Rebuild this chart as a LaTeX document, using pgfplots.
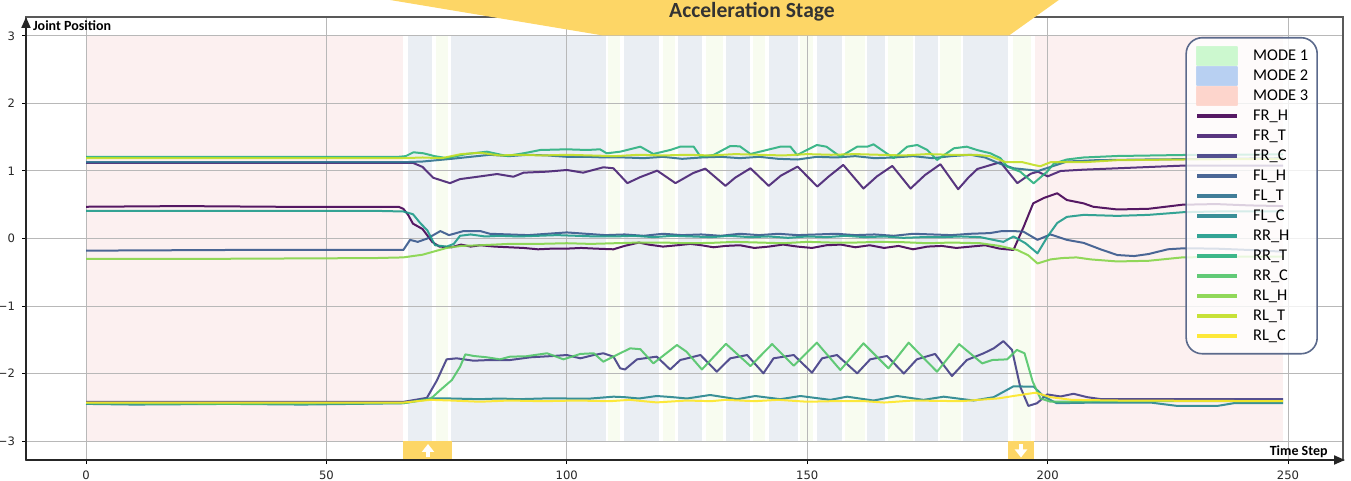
\documentclass[border=0pt]{standalone}
\usepackage{pgfplots}
\pgfplotsset{compat=1.18}
\usepackage{fontspec}
\setmainfont{Carlito}
\newfontfamily\dejavu{DejaVu Sans}
\usetikzlibrary{arrows.meta}
\definecolor{c0}{HTML}{440154}
\definecolor{c1}{HTML}{482173}
\definecolor{c2}{HTML}{433E85}
\definecolor{c3}{HTML}{38588C}
\definecolor{c4}{HTML}{2D708E}
\definecolor{c5}{HTML}{25858E}
\definecolor{c6}{HTML}{1E9B8A}
\definecolor{c7}{HTML}{2AB07F}
\definecolor{c8}{HTML}{52C569}
\definecolor{c9}{HTML}{86D549}
\definecolor{c10}{HTML}{C2DF23}
\definecolor{c11}{HTML}{FDE725}
\definecolor{shpink}{RGB}{252,238,238}
\definecolor{shblue}{RGB}{232,236,242}
\definecolor{shgreen}{RGB}{247,252,238}
\definecolor{lgreen}{HTML}{CCF8CF}
\definecolor{lblue}{HTML}{B8D0F2}
\definecolor{lpink}{HTML}{FDD5CC}
\definecolor{banner}{HTML}{FDD666}
\definecolor{legframe}{HTML}{5B6A8C}
\newcommand{\region}[3]{\addplot[draw=none, fill=#1, on layer=axis background, forget plot] coordinates {(#2,-3) (#2,3) (#3,3) (#3,-3)} -- cycle;}
\begin{document}
\begin{tikzpicture}
\begin{axis}[
  set layers,
  scale only axis, width=658.5pt, height=221.5pt,
  xmin=-12.48, xmax=261.44, ymin=-3.281, ymax=3.281,
  xtick={0,50,100,150,200,250}, ytick={-3,-2,-1,0,1,2,3},
  xticklabels={0,50,100,150,200,250},
  yticklabels={−3,−2,−1,0,1,2,3},
  tick label style={font=\dejavu\fontsize{5.8}{7}\selectfont, text=black!85},
  tick align=outside, xtick pos=bottom, ytick pos=left,
  major tick length=2pt,
  tick style={black, line width=0.5pt},
  grid=major, grid style={black!28, line width=0.5pt},
  axis line style={draw=black!65, line width=0.6pt},
  every axis plot/.append style={line width=1pt, line join=round, opacity=0.9},
  legend style={at={(0.981,0.955)}, anchor=north east, rounded corners=8pt,
    draw=legframe, line width=0.8pt, fill=white, fill opacity=0.8, text opacity=1, draw opacity=1,
    font=\fontsize{8.2}{9}\selectfont, inner xsep=4.5pt, inner ysep=4pt,
    nodes={inner sep=0pt, text height=7pt, text depth=2pt, inner ysep=0.5pt},
    /tikz/every odd column/.append style={column sep=7pt}},
  legend cell align=left,
  legend image code/.code={\draw[#1, line width=2pt, opacity=0.9, sharp corners] (0pt,0pt) -- (20pt,0pt);},
]
\region{shpink}{0}{66}
\region{shblue}{67}{72}
\region{shgreen}{72.8}{75.3}
\region{shblue}{76}{108.2}
\region{shgreen}{108.6}{111}
\region{shblue}{111.9}{119.2}
\region{shgreen}{120.1}{122.4}
\region{shblue}{123.2}{128.2}
\region{shgreen}{129}{132.5}
\region{shblue}{133.2}{138}
\region{shgreen}{138.8}{141.3}
\region{shblue}{142.1}{148.1}
\region{shgreen}{148.6}{151.3}
\region{shblue}{152.1}{157.3}
\region{shgreen}{157.9}{162.1}
\region{shblue}{162.5}{166.2}
\region{shgreen}{166.9}{172.1}
\region{shblue}{172.5}{177.3}
\region{shgreen}{177.7}{181.9}
\region{shblue}{182.3}{191.8}
\region{shgreen}{192.7}{196.6}
\region{shpink}{197.3}{249}

\addlegendimage{legend image code/.code={\fill[lgreen, fill opacity=1, sharp corners] (0pt,-4.5pt) rectangle (20pt,4.5pt);}}
\addlegendentry{MODE 1}
\addlegendimage{legend image code/.code={\fill[lblue, fill opacity=1, sharp corners] (0pt,-4.5pt) rectangle (20pt,4.5pt);}}
\addlegendentry{MODE 2}
\addlegendimage{legend image code/.code={\fill[lpink, fill opacity=1, sharp corners] (0pt,-4.5pt) rectangle (20pt,4.5pt);}}
\addlegendentry{MODE 3}

% FR_H
\addplot[c0] coordinates {(0,0.47) (20,0.48) (40,0.47) (60,0.47) (65,0.47) (66,0.44) (67,0.35) (68,0.22) (70,0.14) (72,-0.05) (73.5,-0.12) (76,-0.13) (78,-0.09) (80,-0.12) (82,-0.1) (85,-0.12) (88,-0.13) (91,-0.14) (94,-0.16) (97,-0.15) (100,-0.15) (103,-0.14) (106,-0.15) (109.7,-0.16) (112,-0.11) (115,-0.06) (117,-0.09) (120,-0.12) (123,-0.1) (125.7,-0.08) (128,-0.1) (130.5,-0.13) (133,-0.11) (136,-0.1) (139,-0.14) (142,-0.12) (145,-0.09) (148,-0.12) (151,-0.14) (154,-0.1) (157,-0.09) (160,-0.13) (163,-0.1) (166,-0.14) (169,-0.11) (172,-0.16) (175,-0.12) (178,-0.11) (181,-0.14) (184,-0.12) (187,-0.1) (190,-0.15) (192.9,-0.17) (195,0.17) (197,0.52) (199.2,0.6) (202,0.67) (204,0.57) (207.5,0.52) (209.5,0.47) (214.5,0.43) (221,0.44) (228,0.5) (235,0.51) (242,0.49) (249,0.48)};
\addlegendentry{FR\_H}
% FR_T
\addplot[c1] coordinates {(0,1.12) (30,1.12) (66,1.12) (68,1.12) (70,1.06) (72.2,0.9) (75.7,0.82) (77.8,0.88) (82,0.92) (85.5,0.955) (88.9,0.915) (91,0.975) (95.9,0.99) (100,1.015) (103.4,0.975) (107.6,1.055) (109.7,1.04) (112.6,0.82) (115.3,0.91) (118.8,1.005) (122.6,0.82) (126.3,0.97) (128.8,1.035) (133,0.78) (135,0.9) (138.2,1.04) (142,0.78) (144.5,0.93) (148,1.065) (152.1,0.77) (154.5,0.92) (157.5,1.09) (161.7,0.74) (164.5,0.92) (167.7,1.075) (171.5,0.74) (174.5,0.94) (177.7,1.1) (181.4,0.73) (183.5,0.9) (185.4,1.03) (188.7,1.1) (190.2,1.13) (193.7,0.82) (196.5,0.96) (198,0.99) (200,0.92) (202.7,1.0) (207.5,1.02) (214.5,1.04) (228.3,1.08) (249,1.08)};
\addlegendentry{FR\_T}
% FR_C
\addplot[c2] coordinates {(0,-2.42) (30,-2.42) (60,-2.42) (66,-2.42) (70.9,-2.36) (73,-2.1) (75,-1.79) (77.1,-1.775) (80.6,-1.81) (84,-1.8) (88.2,-1.8) (92.4,-1.76) (97.2,-1.74) (100,-1.726) (102.8,-1.775) (105.6,-1.726) (107.6,-1.7) (109.7,-1.75) (111.1,-1.923) (112.1,-1.94) (114.6,-1.79) (118.7,-1.75) (121.5,-1.94) (123.6,-1.8) (127.8,-1.726) (131.2,-1.973) (134,-1.775) (137.5,-1.726) (140.9,-1.997) (143,-1.775) (147.2,-1.726) (151,-1.987) (153.1,-1.775) (156.2,-1.726) (160.4,-1.997) (163.1,-1.79) (166.6,-1.74) (170.1,-2.0) (172.8,-1.79) (176.6,-1.71) (180.1,-2.037) (183.2,-1.8) (186.7,-1.7) (188.8,-1.627) (190.8,-1.52) (192.6,-1.65) (194.3,-2.195) (196,-2.48) (197.8,-2.44) (199.9,-2.31) (202.7,-2.34) (205.4,-2.3) (208.2,-2.35) (211,-2.378) (230,-2.38) (249,-2.38)};
\addlegendentry{FR\_C}
% FL_H
\addplot[c3] coordinates {(0,-0.18) (30,-0.17) (60,-0.17) (66,-0.17) (67.4,-0.02) (69,-0.05) (71,0.0) (73.7,0.11) (75.5,0.05) (78.5,0.11) (82,0.11) (84,0.07) (88,0.06) (92,0.05) (96,0.07) (100,0.09) (104,0.07) (108,0.05) (112,0.06) (116,0.04) (120,0.07) (124,0.05) (128,0.06) (132,0.04) (136,0.07) (140,0.05) (144,0.07) (148,0.05) (152,0.06) (156,0.07) (160,0.05) (164,0.06) (168,0.04) (172,0.07) (176,0.06) (180,0.05) (184,0.07) (188,0.08) (190.5,0.11) (193,0.11) (195,0.1) (197.9,-0.02) (200.6,0.06) (204,-0.02) (207.5,-0.065) (211,-0.16) (214.5,-0.245) (218,-0.26) (221,-0.23) (225,-0.16) (228.3,-0.145) (235,-0.15) (242,-0.17) (249,-0.195)};
\addlegendentry{FL\_H}
% FL_T
\addplot[c4] coordinates {(0,1.13) (30,1.13) (66,1.13) (70,1.14) (73,1.16) (76,1.18) (80,1.21) (84,1.24) (88,1.22) (92,1.24) (96,1.23) (100,1.21) (104,1.21) (108,1.2) (112,1.2) (116,1.19) (120,1.21) (124,1.18) (128,1.2) (132,1.21) (136,1.19) (140,1.21) (144,1.18) (148,1.17) (152,1.21) (156,1.2) (160,1.22) (164,1.19) (168,1.2) (172,1.22) (176,1.19) (180,1.22) (184,1.24) (187,1.2) (190,1.11) (193,1.04) (196.4,1.015) (198,1.0) (200.6,1.06) (204,1.14) (210,1.16) (220,1.17) (235,1.18) (249,1.19)};
\addlegendentry{FL\_T}
% FL_C
\addplot[c5] coordinates {(0,-2.45) (10,-2.46) (30,-2.45) (45,-2.46) (66,-2.44) (71.6,-2.368) (76,-2.37) (81.9,-2.38) (86,-2.37) (90,-2.38) (95.9,-2.368) (100,-2.37) (105,-2.37) (109.7,-2.343) (112,-2.35) (115,-2.37) (118.7,-2.333) (122,-2.35) (125,-2.37) (129.8,-2.318) (135.4,-2.38) (139.2,-2.333) (144.4,-2.38) (148.6,-2.333) (154.8,-2.39) (158.3,-2.343) (163.8,-2.4) (168.7,-2.333) (174.2,-2.39) (178.4,-2.343) (184.6,-2.4) (188.8,-2.35) (192.9,-2.19) (197.1,-2.195) (199.2,-2.34) (201.9,-2.44) (210,-2.43) (221.4,-2.43) (227,-2.48) (235.3,-2.48) (238.7,-2.44) (249,-2.44)};
\addlegendentry{FL\_C}
% RR_H
\addplot[c6] coordinates {(0,0.41) (30,0.41) (60,0.41) (66,0.4) (68,0.36) (69.5,0.23) (71,0.12) (72.6,-0.1) (75,-0.12) (76.5,-0.08) (77.8,0.04) (80,0.06) (83,0.03) (86,0.04) (90,0.03) (94,0.04) (98,0.05) (102,0.04) (106,0.03) (110,0.03) (114,0.04) (118,0.02) (122,0.04) (126,0.03) (130,0.02) (134,0.04) (138,0.02) (142,0.03) (146,0.01) (150,0.03) (154,0.02) (158,0.04) (162,0.02) (166,0.03) (170,0.01) (174,0.02) (178,0.02) (182,0.03) (186,0.02) (188.7,-0.02) (190.8,-0.05) (192.9,0.03) (195.4,-0.07) (197.9,-0.22) (200,0.03) (202,0.23) (204,0.32) (207.5,0.35) (214.5,0.335) (221,0.35) (228.3,0.39) (235,0.4) (249,0.4)};
\addlegendentry{RR\_H}
% RR_T
\addplot[c7] coordinates {(0,1.21) (30,1.21) (65,1.21) (66.5,1.22) (68.1,1.277) (70.2,1.262) (72.5,1.22) (75,1.19) (79.2,1.252) (83.4,1.286) (87.5,1.222) (91,1.262) (94.5,1.311) (100,1.321) (104.2,1.311) (106.9,1.321) (108.3,1.262) (111.1,1.286) (115.3,1.36) (118,1.252) (121.5,1.311) (123.6,1.36) (126.4,1.36) (127.8,1.212) (130.5,1.237) (134,1.37) (136,1.365) (138.2,1.252) (141.6,1.311) (144.4,1.36) (146.5,1.36) (147.9,1.237) (152,1.385) (154,1.36) (156.9,1.212) (160.4,1.36) (162.5,1.36) (163.8,1.395) (165.5,1.311) (168,1.19) (170.8,1.36) (172.9,1.385) (175,1.31) (177,1.163) (180.5,1.336) (183.2,1.36) (185.3,1.311) (188.1,1.262) (190.2,1.19) (191.6,1.064) (194.3,0.99) (197.1,0.818) (199.9,0.99) (201.3,1.11) (204,1.17) (207.5,1.2) (214.5,1.222) (228.3,1.237) (249,1.247)};
\addlegendentry{RR\_T}
% RR_C
\addplot[c8] coordinates {(0,-2.44) (30,-2.45) (60,-2.44) (66,-2.44) (71.6,-2.38) (73.7,-2.244) (76.1,-2.096) (77.8,-1.9) (78.9,-1.716) (80.6,-1.74) (83.4,-1.76) (86.1,-1.79) (88.2,-1.75) (91.5,-1.745) (95.9,-1.7) (99.3,-1.79) (102.8,-1.71) (105.6,-1.7) (107.6,-1.825) (110.5,-1.72) (113.2,-1.627) (115.3,-1.64) (118,-1.85) (122.9,-1.578) (124.9,-1.677) (128.1,-1.94) (133.1,-1.56) (138.2,-1.89) (142.7,-1.563) (147.2,-1.884) (152,-1.543) (156.9,-1.948) (161.7,-1.553) (166.9,-1.923) (171.1,-1.543) (177,-1.973) (181.6,-1.565) (186.4,-1.85) (188.5,-1.8) (191.6,-1.79) (193.6,-1.65) (195.2,-1.7) (196.9,-2.12) (198.5,-2.368) (200.6,-2.418) (210,-2.41) (230,-2.41) (249,-2.41)};
\addlegendentry{RR\_C}
% RL_H
\addplot[c9] coordinates {(0,-0.3) (30,-0.3) (60,-0.29) (66,-0.28) (70,-0.24) (72,-0.2) (75,-0.14) (78,-0.11) (82,-0.1) (88,-0.08) (94,-0.08) (100,-0.07) (105,-0.08) (110,-0.07) (115,-0.06) (120,-0.06) (125,-0.07) (130,-0.065) (135,-0.05) (140,-0.06) (145,-0.07) (150,-0.05) (155,-0.06) (160,-0.06) (165,-0.05) (170,-0.055) (175,-0.07) (180,-0.06) (186,-0.07) (190,-0.11) (193.7,-0.17) (196,-0.25) (197.9,-0.37) (200.6,-0.31) (203,-0.29) (206,-0.28) (209,-0.31) (214.5,-0.34) (221,-0.33) (228,-0.28) (238,-0.27) (249,-0.27)};
\addlegendentry{RL\_H}
% RL_T
\addplot[c10] coordinates {(0,1.19) (30,1.19) (66,1.19) (70,1.2) (74,1.19) (78,1.25) (82,1.27) (86,1.23) (90,1.24) (95,1.23) (100,1.24) (105,1.23) (110,1.22) (115,1.24) (120,1.23) (125,1.24) (130,1.23) (135,1.25) (140,1.24) (145,1.23) (150,1.25) (155,1.24) (160,1.25) (165,1.24) (170,1.23) (175,1.25) (180,1.24) (185,1.24) (188,1.22) (191.3,1.13) (194.8,1.13) (197.1,1.09) (198.5,1.07) (200.6,1.13) (202.7,1.13) (207.5,1.13) (214.5,1.16) (228,1.17) (249,1.18)};
\addlegendentry{RL\_T}
% RL_C
\addplot[c11] coordinates {(0,-2.43) (30,-2.43) (66,-2.43) (71.6,-2.39) (76,-2.40) (81.9,-2.418) (88,-2.40) (95,-2.41) (102,-2.40) (109,-2.41) (113,-2.39) (118.7,-2.428) (125,-2.40) (130,-2.41) (133,-2.39) (139,-2.41) (144,-2.39) (150,-2.418) (155,-2.41) (162,-2.41) (166,-2.43) (172,-2.40) (182,-2.41) (189.8,-2.368) (192.9,-2.333) (197.5,-2.284) (200.6,-2.35) (205,-2.39) (215,-2.40) (249,-2.41)};
\addlegendentry{RL\_C}

\coordinate (IMG) at (rel axis cs:-0.019742,1.038375);
\end{axis}
\begin{scope}[shift={(IMG)}, x=0.5pt, y=-0.5pt]
  % bottom markers
  \fill[banner] (403,441.5) rectangle (451.5,460);
  \draw[white, line width=1.6pt, -{Triangle[length=4pt,width=6pt]}] (428,457.5) -- (428,444);
  \fill[banner] (1008,441.5) rectangle (1034,460);
  \draw[white, line width=1.6pt, -{Triangle[length=4pt,width=6pt]}] (1021,444) -- (1021,457.5);
  % axis arrows
  \draw[black!85, line width=1pt, -{Triangle[length=5.5pt,width=4.5pt]}] (26,460) -- (26,17);
  \draw[black!85, line width=1pt, -{Triangle[length=5.5pt,width=4.5pt]}] (26,460) -- (1345,460);
  % axis labels
  \node[anchor=base west, font=\bfseries\fontsize{7}{8}\selectfont, inner sep=0pt] at (32.7,30.7) {Joint Position};
  \node[anchor=base east, font=\bfseries\fontsize{7}{8}\selectfont, inner sep=0pt] at (1328,456) {Time Step};
  % banner
  \fill[banner] (372,-3) -- (603,35.5) -- (1009,35.5) -- (1063,-3) -- cycle;
  \node[anchor=base, font=\bfseries\fontsize{10.8}{12}\selectfont, text=black!80, inner sep=0pt] at (752,18) {Acceleration Stage};
  \pgfresetboundingbox
  \path[use as bounding box] (0,0) rectangle (1351,481);
\end{scope}
\end{tikzpicture}
\end{document}
